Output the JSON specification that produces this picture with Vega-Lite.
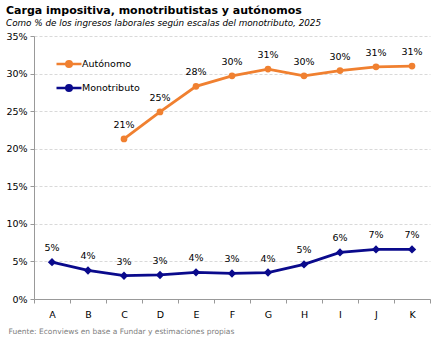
{
  "$schema": "https://vega.github.io/schema/vega-lite/v6.json",
  "width": 396,
  "height": 263,
  "autosize": {"type": "none"},
  "padding": {"left": 34, "top": 36, "right": 13, "bottom": 41},
  "background": "white",
  "config": {
    "font": "DejaVu Sans",
    "view": {"stroke": null},
    "axis": {"labelFont": "DejaVu Sans", "labelFontSize": 9.5, "labelColor": "#000000"}
  },
  "title": {
    "text": "Carga impositiva, monotributistas y autónomos",
    "subtitle": "Como % de los ingresos laborales según escalas del monotributo, 2025",
    "anchor": "start",
    "frame": "group",
    "dx": -28,
    "offset": 3,
    "font": "DejaVu Sans",
    "fontSize": 11,
    "fontWeight": "bold",
    "color": "#000000",
    "subtitleFont": "DejaVu Sans",
    "subtitleFontSize": 8.8,
    "subtitleFontStyle": "italic",
    "subtitleColor": "#000000",
    "subtitlePadding": 3
  },
  "data": {
    "values": [
      {"cat": "A", "serie": "Monotributo", "v": 0.049},
      {"cat": "B", "serie": "Monotributo", "v": 0.038},
      {"cat": "C", "serie": "Monotributo", "v": 0.031},
      {"cat": "D", "serie": "Monotributo", "v": 0.032},
      {"cat": "E", "serie": "Monotributo", "v": 0.0355},
      {"cat": "F", "serie": "Monotributo", "v": 0.034},
      {"cat": "G", "serie": "Monotributo", "v": 0.0352},
      {"cat": "H", "serie": "Monotributo", "v": 0.046},
      {"cat": "I", "serie": "Monotributo", "v": 0.062},
      {"cat": "J", "serie": "Monotributo", "v": 0.066},
      {"cat": "K", "serie": "Monotributo", "v": 0.066},
      {"cat": "C", "serie": "Autónomo", "v": 0.213},
      {"cat": "D", "serie": "Autónomo", "v": 0.249},
      {"cat": "E", "serie": "Autónomo", "v": 0.283},
      {"cat": "F", "serie": "Autónomo", "v": 0.297},
      {"cat": "G", "serie": "Autónomo", "v": 0.306},
      {"cat": "H", "serie": "Autónomo", "v": 0.297},
      {"cat": "I", "serie": "Autónomo", "v": 0.304},
      {"cat": "J", "serie": "Autónomo", "v": 0.309},
      {"cat": "K", "serie": "Autónomo", "v": 0.310}
    ]
  },
  "encoding": {
    "x": {
      "field": "cat",
      "type": "nominal",
      "scale": {"type": "band", "paddingInner": 0, "paddingOuter": 0},
      "axis": {
        "title": "Fuente: Econviews en base a Fundar y estimaciones propias",
        "titleFont": "DejaVu Sans",
        "titleFontSize": 7.5,
        "titleFontWeight": "normal",
        "titleColor": "#808080",
        "titleAnchor": "start",
        "titleAlign": "left",
        "titleX": -26,
        "titleY": 28,
        "labelAngle": 0,
        "labelPadding": 6,
        "tickBand": "extent",
        "tickSize": 4,
        "tickColor": "#999999",
        "domainColor": "#999999",
        "grid": false
      }
    },
    "y": {
      "field": "v",
      "type": "quantitative",
      "scale": {"domain": [0, 0.35], "nice": false},
      "axis": {
        "title": null,
        "format": ".0%",
        "values": [0, 0.05, 0.1, 0.15, 0.2, 0.25, 0.3, 0.35],
        "tickSize": 4,
        "tickColor": "#999999",
        "domainColor": "#999999",
        "labelPadding": 3,
        "grid": true,
        "gridColor": "#d9d9d9",
        "gridDash": [3, 2],
        "gridWidth": 1
      }
    },
    "color": {
      "field": "serie",
      "type": "nominal",
      "scale": {"domain": ["Autónomo", "Monotributo"], "range": ["#F08030", "#0A0A8C"]},
      "legend": {
        "title": null,
        "orient": "none",
        "legendX": 21,
        "legendY": 14,
        "labelFont": "DejaVu Sans",
        "labelFontSize": 9.5,
        "labelColor": "#000000",
        "symbolType": "M-1,0H1M0.22,0A0.22,0.22 0 1,1 -0.22,0A0.22,0.22 0 1,1 0.22,0Z",
        "symbolSize": 625,
        "symbolStrokeWidth": 2.5,
        "labelOffset": -1,
        "rowPadding": 2,
        "encode": {
          "symbols": {"update": {"fill": {"scale": "color", "field": "value"}, "stroke": {"scale": "color", "field": "value"}, "opacity": {"value": 1}}}
        }
      }
    }
  },
  "layer": [
    {"mark": {"type": "line", "strokeWidth": 2.8}},
    {
      "transform": [{"filter": "datum.serie == 'Autónomo'"}],
      "mark": {"type": "point", "shape": "circle", "filled": true, "size": 45, "opacity": 1}
    },
    {
      "transform": [{"filter": "datum.serie == 'Monotributo'"}],
      "mark": {"type": "point", "shape": "diamond", "filled": true, "size": 70, "opacity": 1}
    },
    {
      "mark": {"type": "text", "dy": -14, "fontSize": 9.5, "font": "DejaVu Sans", "color": "#000000"},
      "encoding": {
        "text": {"field": "v", "type": "quantitative", "format": ".0%"},
        "color": {"value": "#000000"}
      }
    }
  ]
}
